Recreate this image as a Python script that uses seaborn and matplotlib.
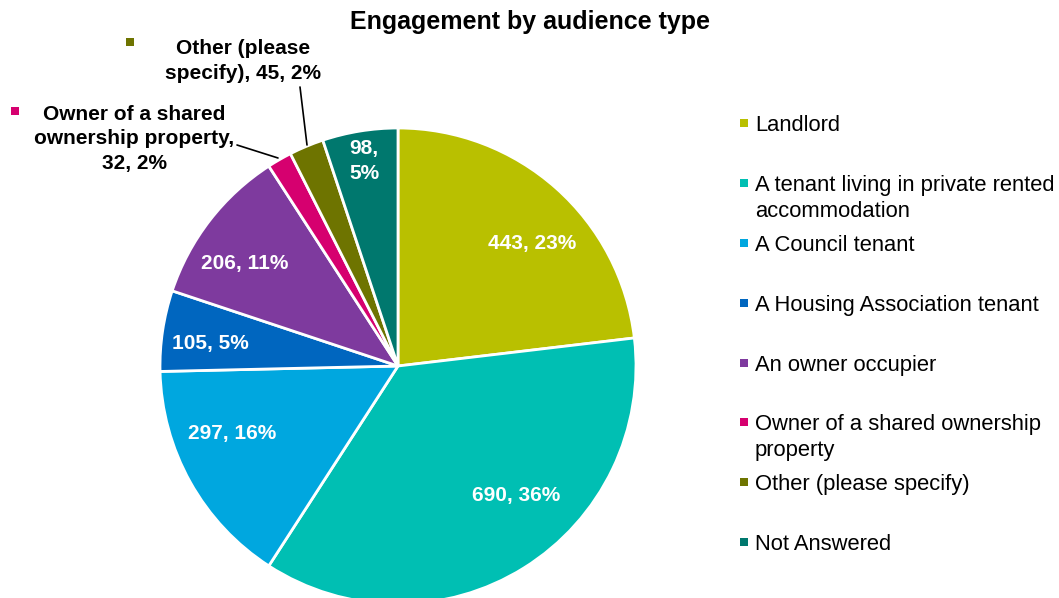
import matplotlib
matplotlib.use("Agg")
import matplotlib.pyplot as plt
from matplotlib.patches import Rectangle
import seaborn as sns

categories = ["Landlord", "A tenant living in private rented accommodation", "A Council tenant",
              "A Housing Association tenant", "An owner occupier",
              "Owner of a shared ownership property", "Other (please specify)", "Not Answered"]
legend_labels = ["Landlord", "A tenant living in private rented\naccommodation", "A Council tenant",
                 "A Housing Association tenant", "An owner occupier",
                 "Owner of a shared ownership\nproperty", "Other (please specify)", "Not Answered"]
values = [443, 690, 297, 105, 206, 32, 45, 98]
percents = [23, 36, 16, 5, 11, 2, 2, 5]
colors = ["#B9C000", "#00BFB3", "#00A7DF", "#0066BF", "#7E3A9E", "#D6006F", "#6E7400", "#00786E"]

sns.set_theme(style="white")
plt.rcParams["font.family"] = ["Liberation Sans", "DejaVu Sans"]

W, H = 1059, 598
fig = plt.figure(figsize=(W / 100, H / 100), dpi=100)
ax = fig.add_axes([0, 0, 1, 1])
ax.set_xlim(0, W)
ax.set_ylim(-H, 0)
ax.set_aspect("equal")
ax.axis("off")

cx, cy, R = 398, 366, 238
pal = sns.color_palette(colors)
wedges, texts = ax.pie(values, colors=pal, startangle=90, counterclock=False,
                       center=(cx, -cy), radius=R,
                       wedgeprops=dict(edgecolor="white", linewidth=2))
for t in texts:
    t.remove()
ax.set_xlim(0, W)
ax.set_ylim(-H, 0)

# inside labels (pixel positions of label centres)
inside_pos = {0: (532, 243), 1: (516, 495), 2: (232, 434), 3: (210, 344), 4: (245, 264), 7: (364, 161)}
for i, (x, y) in inside_pos.items():
    txt = f"{values[i]}, {percents[i]}%" if i != 7 else f"{values[i]},\n{percents[i]}%"
    ax.text(x, -y, txt, color="white", fontsize=15, fontweight="bold",
            ha="center", va="center", linespacing=1.35)

def key(x, y, c, s=8):
    ax.add_patch(Rectangle((x - s / 2, -y - s / 2), s, s, facecolor=c, edgecolor="none"))

# outside labels with leader lines
ax.text(243, -61, f"Other (please\nspecify), {values[6]}, {percents[6]}%", fontsize=15,
        fontweight="bold", ha="center", va="center", color="black", linespacing=1.35)
key(130, 42, colors[6])
ax.plot([300, 307], [-87, -145], color="black", lw=1.2)

ax.text(134, -139, f"Owner of a shared\nownership property,\n{values[5]}, {percents[5]}%", fontsize=15,
        fontweight="bold", ha="center", va="center", color="black", linespacing=1.35)
key(15, 111, colors[5])
ax.plot([237, 278], [-145, -158], color="black", lw=1.2)

# title
ax.text(W / 2, -22, "Engagement by audience type", fontsize=18, fontweight="bold",
        ha="center", va="center", color="black")

# legend
for i, lab in enumerate(legend_labels):
    y = round(123 + i * 59.9)
    key(744, y, colors[i])
    for j, line in enumerate(lab.split("\n")):
        ax.text(755, -(y + j * 26), line, fontsize=15.8, ha="left", va="center_baseline",
                color="black")

fig.savefig("out.png", dpi=100)
